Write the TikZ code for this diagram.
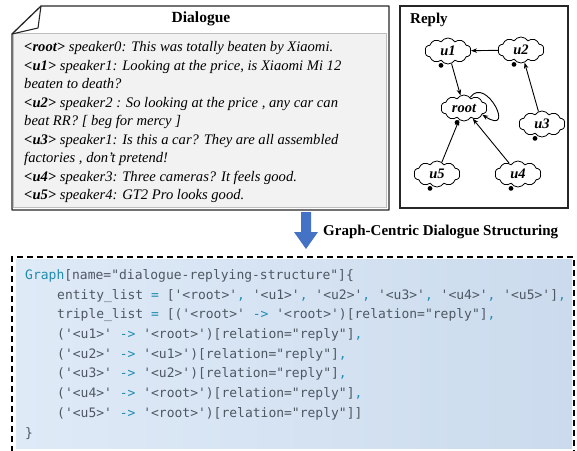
\documentclass[tikz,border=0pt]{standalone}
\usepackage{fontspec}
\setmainfont{Liberation Serif}
\setmonofont{DejaVu Sans Mono}
\usetikzlibrary{shapes.symbols,arrows.meta}
\definecolor{codeteal}{RGB}{32,140,175}
\definecolor{codegray}{RGB}{78,88,98}
\definecolor{boxgray}{RGB}{242,242,242}
\definecolor{boxline}{RGB}{190,190,190}
\definecolor{codelight}{RGB}{223,234,247}
\definecolor{codedark}{RGB}{203,219,237}
\definecolor{arrowblue}{RGB}{68,114,196}
\newcommand\kw[1]{\textcolor{codeteal}{#1}}
\tikzset{
  dlg/.style={anchor=base west, inner sep=0pt, font=\fontsize{14.6}{16}\selectfont\itshape},
  codeln/.style={anchor=base west, inner sep=0pt, text=codegray, font=\fontsize{13}{15}\ttfamily},
  utt/.style={cloud, cloud puffs=10, cloud puff arc=115, aspect=1.8, draw, line width=0.8pt,
    minimum width=46pt, minimum height=26pt, inner sep=1pt,
    font=\fontsize{14.5}{16}\selectfont\bfseries\itshape},
  rel/.style={-{Stealth[length=6pt,width=4.5pt]}, line width=0.9pt},
}
\begin{document}
\begin{tikzpicture}[x=1pt,y=-1pt]
\useasboundingbox (0,0) rectangle (577,450);
% ---------- Dialogue box ----------
\filldraw[fill=boxgray, draw=boxline, line width=0.6pt] (13,33) rectangle (386,207);
\draw[line width=1.3pt, color=black!85, line join=round] (41,6) -- (389,6) -- (389,210) -- (12,210) -- (12,34) -- cycle;
\draw[line width=1.1pt, color=black!85, line join=round] (41,6) -- (38,28) -- (12,34);
\node[font=\fontsize{15.5}{18}\selectfont\bfseries] (dtitle) at (201,19) {Dialogue};
\node[dlg] (l1) at (24,51.5) {\textbf{<root>} speaker0: This was totally beaten by Xiaomi.};
\node[dlg] (l2) at (24,70) {\textbf{<u1>} speaker1: Looking at the price, is Xiaomi Mi 12};
\node[dlg] (l3) at (24,88.5) {beaten to death?};
\node[dlg] (l4) at (24,107) {\textbf{<u2>} speaker2 : So looking at the price , any car can};
\node[dlg] (l5) at (24,125.5) {beat RR? [ beg for mercy ]};
\node[dlg] (l6) at (24,144) {\textbf{<u3>} speaker1: Is this a car? They are all assembled};
\node[dlg] (l7) at (24,162.5) {factories , don't pretend!};
\node[dlg] (l8) at (24,181) {\textbf{<u4>} speaker3: Three cameras? It feels good.};
\node[dlg] (l9) at (24,199.5) {\textbf{<u5>} speaker4: GT2 Pro looks good.};
% ---------- Reply box ----------
\draw[line width=1.3pt, color=black!85] (400,6) rectangle (568,208);
\node[anchor=west, inner sep=0pt, font=\fontsize{15}{18}\selectfont\bfseries] (rtitle) at (410,20) {Reply};
\node[utt] (u1) at (448,51) {u1};
\node[utt] (u2) at (521,50) {u2};
\node[utt] (root) at (464,108) {root};
\node[utt] (u3) at (542,124) {u3};
\node[utt] (u5) at (437,174) {u5};
\node[utt] (u4) at (518,174) {u4};
\foreach \n in {u1,u2,root,u3,u5,u4}{
  \fill ([xshift=-7pt,yshift=-1pt]\n.south) circle (2.4pt);
}
\draw[rel] (u2) -- (u1);
\draw[rel] (u1) -- (root);
\draw[rel] (u3) -- (u2);
\draw[rel] (u4) -- (root);
\draw[rel] (u5) -- (root);
\draw[rel] (root.60) .. controls +(16,-22) and +(34,22) .. (root.-20);
% ---------- arrow + caption ----------
\fill[arrowblue] (301,212) -- (311,212) -- (311,232) -- (318,232) -- (306,249) -- (294,232) -- (301,232) -- cycle;
\node[anchor=west, inner sep=0pt, font=\fontsize{15}{18}\selectfont\bfseries] (cap) at (323,232) {Graph-Centric Dialogue Structuring};
% ---------- code box ----------
\shade[left color=codelight, right color=codedark] (16,259) rectangle (572,448);
\draw[line width=1.3pt, dash pattern=on 6pt off 4pt] (12,452) -- (12,257) -- (574,257) -- (574,452);
\node[codeln] (c1) at (25,279) {\kw{Graph}[name="dialogue-replying-structure"]\{};
\node[codeln] (c2) at (57,299) {entity\_list \kw{=} ['<root>'\kw{,} '<u1>'\kw{,} '<u2>'\kw{,} '<u3>'\kw{,} '<u4>'\kw{,} '<u5>']\kw{,}};
\node[codeln] (c3) at (57,318.5) {triple\_list \kw{=} [('<root>' \kw{->} '<root>')[relation="reply"]\kw{,}};
\node[codeln] (c4) at (57,338) {('<u1>' \kw{->} '<root>')[relation="reply"]\kw{,}};
\node[codeln] (c5) at (57,358) {('<u2>' \kw{->} '<u1>')[relation="reply"]\kw{,}};
\node[codeln] (c6) at (57,377.5) {('<u3>' \kw{->} '<u2>')[relation="reply"]\kw{,}};
\node[codeln] (c7) at (57,397) {('<u4>' \kw{->} '<root>')[relation="reply"]\kw{,}};
\node[codeln] (c8) at (57,417) {('<u5>' \kw{->} '<root>')[relation="reply"]]};
\node[codeln] (c9) at (25,437) {\}};
\end{tikzpicture}
\end{document}
